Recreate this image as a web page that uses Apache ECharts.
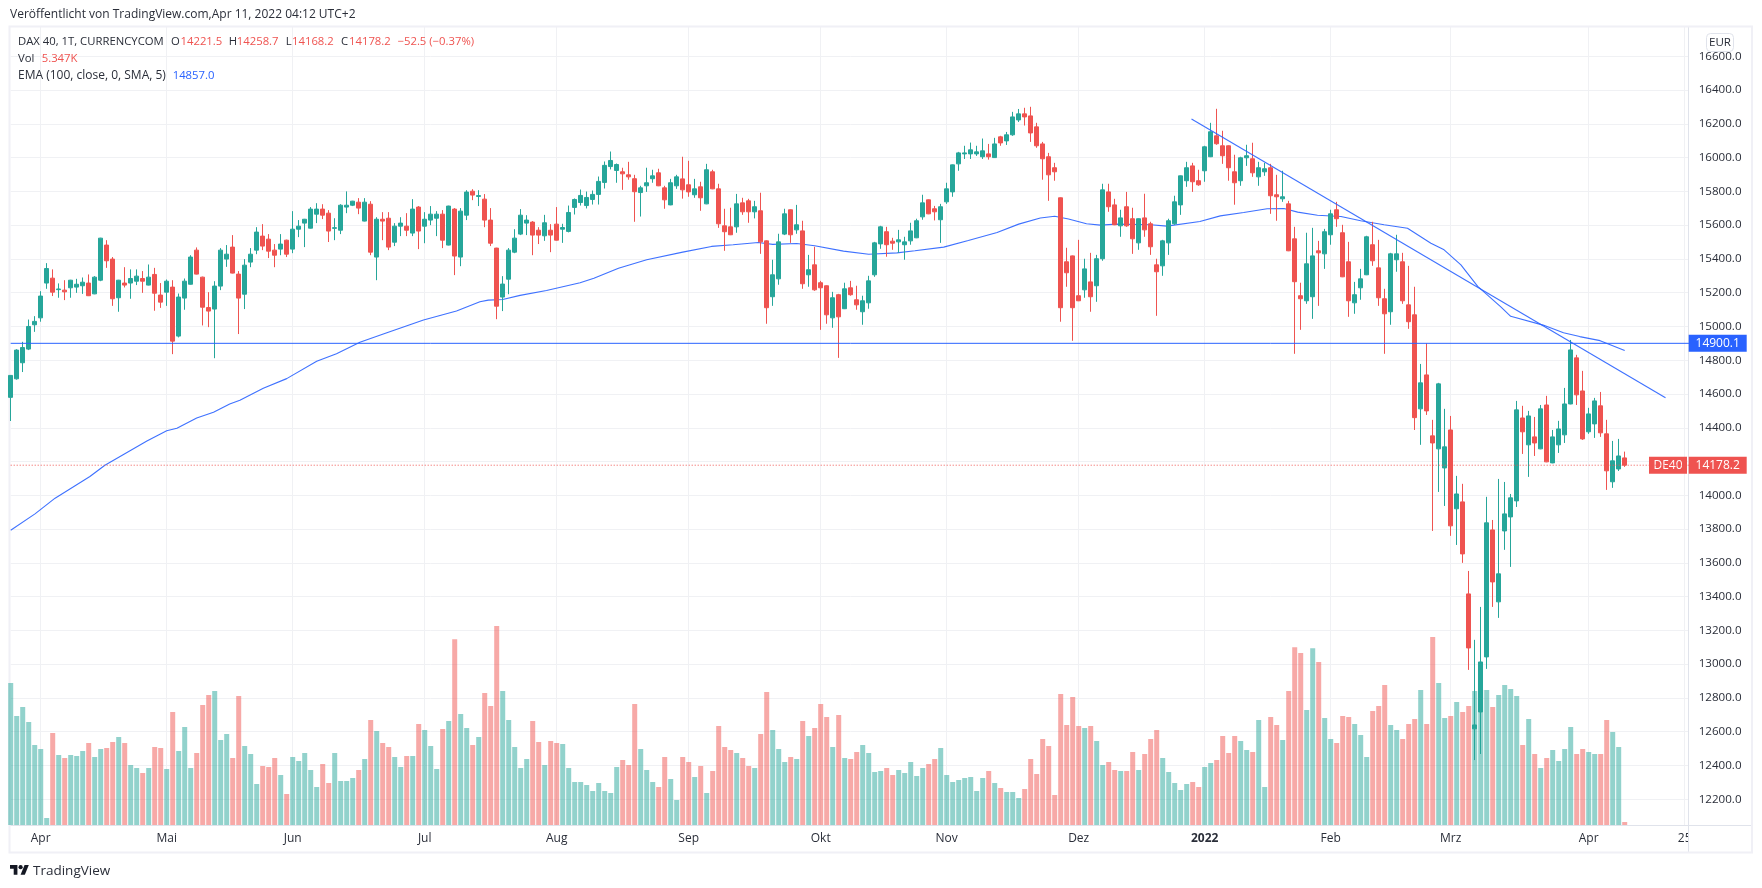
<!DOCTYPE html>
<html><head><meta charset="utf-8">
<style>html,body{margin:0;padding:0;background:#fff}#c{width:1762px;height:888px}</style>
<script src="https://cdn.jsdelivr.net/npm/echarts@6/dist/echarts.min.js"></script>
</head><body><div id="c"></div>
<script>
const opens=[14580,14690,14785,14866,15010,15051,15257,15286,15218,15215,
15229,15233,15241,15257,15193,15274,15482,15399,15170,15257,
15257,15268,15284,15245,15308,15186,15203,15233,14943,15168,
15250,15452,15292,15112,15103,15239,15399,15470,15310,15191,
15381,15452,15535,15517,15452,15458,15511,15458,15576,15612,
15582,15665,15695,15671,15581,15570,15707,15718,15736,15624,
15724,15411,15635,15641,15499,15594,15594,15553,15707,15594,
15630,15641,15665,15482,15695,15411,15659,15801,15770,15754,
15630,15464,15174,15280,15440,15547,15612,15618,15570,15537,
15570,15606,15576,15563,15705,15734,15716,15752,15782,15853,
15947,15924,15916,15898,15875,15793,15833,15875,15910,15821,
15720,15833,15874,15839,15780,15827,15726,15916,15815,15596,
15590,15590,15732,15744,15679,15685,15507,15176,15282,15547,
15691,15572,15566,15306,15365,15259,15241,15051,15188,15105,
15229,15158,15087,15140,15306,15489,15561,15505,15501,15484,
15507,15525,15649,15750,15697,15632,15738,15797,15963,16022,
16022,16022,16005,16022,16000,16123,16099,16135,16223,16259,
16247,16182,16081,16005,15940,15762,15383,15418,15182,15217,
15264,15241,15401,15797,15720,15596,15709,15638,15495,15643,
15608,15365,15359,15495,15608,15720,15863,15951,15863,15922,
16005,16129,16070,16070,15916,15863,15999,15993,15886,15916,
15940,15780,15756,15726,15519,15182,15152,15176,15448,15430,
15543,15691,15555,15383,15140,15229,15306,15484,15347,15164,
15087,15395,15383,15128,15069,14512,14713,14352,14275,14162,
14387,13920,13961,13416,12617,12717,13043,13795,13369,13789,
13872,13967,14458,14299,14346,14275,14535,14192,14299,14358,
14541,14814,14618,14376,14423,14530,14364,14080,14156,14221.5];
const highs=[14710,14865,14909,15041,15061,15209,15375,15338,15255,15274,
15276,15282,15290,15308,15298,15525,15511,15411,15276,15351,
15338,15338,15328,15367,15347,15257,15278,15274,15195,15284,
15422,15468,15295,15203,15268,15464,15482,15541,15328,15399,
15464,15588,15606,15547,15488,15547,15514,15683,15630,15637,
15707,15730,15724,15689,15641,15724,15800,15744,15760,15760,
15742,15647,15677,15677,15612,15647,15671,15754,15713,15677,
15713,15683,15689,15715,15701,15701,15807,15813,15807,15784,
15701,15466,15298,15464,15576,15695,15659,15624,15588,15661,
15606,15707,15608,15716,15758,15811,15799,15805,15888,15977,
16036,15965,15940,15975,15898,15833,15940,15928,15934,15833,
15874,15898,16005,15981,15874,15857,15963,15928,15845,15697,
15703,15785,15762,15756,15744,15792,15510,15395,15549,15697,
15693,15720,15626,15424,15472,15270,15243,15205,15193,15259,
15270,15241,15182,15300,15501,15596,15590,15525,15572,15531,
15614,15638,15780,15752,15714,15726,15851,15959,16034,16070,
16089,16070,16113,16081,16117,16129,16152,16271,16288,16295,
16301,16206,16093,16028,15969,15764,15466,15420,15513,15401,
15436,15424,15845,15845,15756,15691,15797,15703,15640,15786,
15620,15401,15513,15638,15774,15894,15975,15969,15928,16070,
16206,16289,16159,16072,16017,16005,16076,16088,15975,15969,
15963,15898,15922,15744,15590,15259,15555,15584,15507,15578,
15691,15738,15602,15501,15264,15341,15537,15620,15513,15223,
15436,15543,15436,15359,15235,14778,14900,14447,14666,14512,
14470,14115,14068,13552,13144,13339,13991,13854,14097,14079,
14008,14559,14530,14500,14464,14535,14589,14387,14441,14636,
14920,14832,14737,14518,14577,14612,14447,14322,14334,14258.7];
const lows=[14440,14685,14730,14860,14968,15028,15223,15180,15170,15156,
15170,15199,15193,15180,15191,15268,15347,15122,15087,15231,
15164,15245,15199,15243,15093,15110,15122,14836,14935,15099,
15248,15308,15006,14996,14812,15215,15353,15314,14955,15103,
15351,15428,15452,15405,15351,15422,15411,15434,15529,15470,
15580,15612,15636,15500,15511,15547,15671,15713,15665,15622,
15422,15274,15511,15452,15476,15535,15535,15535,15458,15493,
15600,15535,15464,15480,15304,15357,15630,15748,15713,15588,
15476,15043,15091,15191,15434,15541,15541,15422,15488,15507,
15440,15509,15495,15557,15663,15716,15699,15722,15722,15817,
15930,15851,15809,15869,15620,15651,15797,15851,15831,15697,
15718,15815,15757,15768,15762,15685,15724,15813,15584,15448,
15541,15555,15661,15614,15640,15430,15016,15122,15247,15541,
15495,15549,15223,15235,15211,14980,15016,14992,14814,15103,
15182,15099,15010,15105,15294,15460,15413,15454,15436,15395,
15484,15523,15632,15665,15628,15495,15726,15768,15922,15992,
15992,16010,15992,15988,15998,16070,16075,16129,16211,16190,
16093,16058,15869,15744,15863,15028,15235,14915,15150,15170,
15087,15146,15389,15679,15600,15531,15590,15430,15454,15531,
15424,15063,15300,15424,15602,15661,15827,15797,15833,15857,
16003,16076,15963,15863,15721,15833,15951,15886,15833,15892,
15667,15626,15738,15446,14838,14980,15134,15045,15122,15341,
15484,15590,15292,15057,15075,15158,15304,15359,15122,14838,
15010,15324,15134,14986,14387,14299,14476,13789,14020,13937,
13760,13706,13600,12966,12432,12468,12972,13339,13274,13677,
13576,13931,14245,14109,14233,14273,14196,14190,14251,14310,
14539,14535,14328,14364,14340,14346,14032,14044,14144,14168.2];
const closes=[14710,14860,14875,15000,15030,15180,15343,15203,15222,15205,
15274,15250,15262,15182,15292,15523,15389,15164,15274,15245,
15284,15298,15268,15292,15197,15144,15268,14913,15174,15268,
15411,15310,15114,15091,15239,15452,15428,15316,15168,15363,
15428,15559,15476,15446,15422,15488,15428,15576,15594,15635,
15695,15695,15659,15565,15585,15718,15718,15742,15701,15736,
15440,15635,15624,15470,15594,15612,15570,15695,15565,15635,
15665,15665,15511,15713,15417,15683,15796,15778,15775,15630,
15493,15120,15251,15452,15523,15659,15630,15541,15541,15614,
15541,15511,15586,15675,15752,15776,15764,15782,15859,15954,
15983,15959,15904,15886,15798,15821,15851,15892,15833,15750,
15851,15886,15809,15797,15815,15762,15928,15815,15608,15561,
15543,15726,15679,15679,15709,15501,15111,15306,15501,15667,
15543,15602,15253,15336,15217,15229,15069,15170,15057,15223,
15188,15128,15152,15270,15495,15590,15484,15493,15513,15501,
15566,15626,15732,15667,15679,15709,15815,15957,16028,16028,
16046,16034,16040,16005,16081,16087,16135,16241,16259,16241,
16146,16070,15993,15898,15916,15111,15318,15111,15152,15341,
15176,15401,15809,15709,15602,15643,15596,15519,15638,15572,
15472,15324,15507,15626,15738,15892,15940,15857,15839,16064,
16153,16082,16011,15940,15851,15999,16011,15910,15940,15934,
15774,15768,15768,15448,15265,15164,15371,15418,15436,15561,
15667,15638,15294,15152,15188,15282,15531,15389,15170,15075,
15430,15430,15152,15028,14460,14666,14500,14310,14660,14287,
13819,14008,13653,13096,12640,13013,13837,13487,13535,13890,
13985,14506,14376,14470,14310,14512,14198,14346,14393,14541,
14861,14595,14334,14482,14559,14370,14145,14204,14233,14178.2];
const volumes=[255.6,196.2,212.4,185.4,144,136.8,12.6,165.6,126,120.6,
126,124.2,133.2,147.6,122.4,136.8,138.6,149.4,158.4,147.6,
108,102.6,93.6,102.6,140.4,138.6,100.8,203.4,133.2,176.4,
102.6,129.6,216,234,241.2,153,163.8,120.6,232.2,142.2,
127.8,73.8,106.2,104.4,120.6,90,55.8,122.4,115.2,129.6,
99,68.4,109.8,75.6,129.6,79.2,79.2,84.6,99,118.8,
189,169.2,147.6,140.4,122.4,104.4,124.2,124.2,181.8,171,
142.2,100.8,172.8,187.2,334.2,199.8,174.6,144,158.4,237.6,
214.2,358.2,241.2,189,140.4,102.6,118.8,187.2,149.4,108,
151.2,147.6,145.8,102.6,77.4,77.4,72,61.2,75.6,61.2,
57.6,104.4,117,108,217.8,136.8,99,77.4,68.4,122.4,
82.8,45,122.4,113.4,86.4,106.2,57.6,97.2,178.2,140.4,
135,129.6,120.6,106.2,102.6,163.8,239.4,171,136.8,113.4,
122.4,118.8,187.2,160.2,174.6,217.8,194.4,140.4,198,120.6,
118.8,131.4,144,129.6,95.4,97.2,102.6,90,99,93.6,
113.4,88.2,102.6,109.8,118.8,138.6,90,77.4,81,84.6,
86.4,61.2,84.6,97.2,75.6,66.6,59.4,59.4,48.6,64.8,
118.8,91.8,154.8,142.2,54,235.8,180,230.4,178.2,174.6,
178.2,151.2,108,113.4,99,97.2,97.2,131.4,99,127.8,
154.8,171,120.6,95.4,75.6,63,73.8,77.4,68.4,104.4,
111.6,117,160.2,129.6,160.2,151.2,135,131.4,189,68.4,
194.4,180,153,241.2,319.8,309.6,207,318,293.4,192.6,
154.8,147.6,196.2,194.4,181.8,162,122.4,205.2,214.2,252,
180,171,154.8,181.8,190.8,243,181.8,338.4,255.6,192.6,
196.2,221.4,203.4,214.2,241.2,243,243,212.4,234,252,
244.8,232.2,144,190.8,127.8,102.6,120.6,135,115.2,136.8,
176.4,127.8,136.8,131.4,127.8,127.8,189,167.4,140.4,5.347];
const emaIdx=[0,4.05,7.4,13.2,15.7,22.7,26,27.7,31,33.8,36.5,38.2,42.1,46,51,54.3,58.2,62.1,68.8,74.3,78.2,79.6,82,84.9,89.3,94.9,97.2,101.3,106,112,116.8,120.4,124.6,127,131,134,138.8,143,147.7,150.7,155.5,159.6,164.4,168,171.6,174,176.3,179.3,181.6,184.4,190,192.7,198.2,201.6,205.5,209.4,212.2,214.5,217.8,221.7,225,228.9,232.8,236.7,238.9,241.7,244.5,248.4,250,255.4,258.8,261.5,264.9,269];
const emaVal=[13793,13890,13983,14111,14178,14322,14382,14397,14458,14492,14541,14563,14634,14691,14794,14839,14907,14955,15038,15091,15146,15156,15160,15184,15213,15259,15286,15345,15395,15440,15474,15484,15497,15486,15491,15478,15446,15428,15436,15448,15470,15509,15557,15606,15642,15653,15636,15608,15600,15606,15602,15594,15622,15655,15675,15697,15699,15677,15659,15651,15626,15602,15582,15493,15454,15365,15237,15114,15060,15008,14963,14940,14916,14857];
const trendIdx=[196.8,275.8];
const trendVal=[16229,14578];
const levelLine=14900.1;
const lastPrice=14178.2;
const priceGridTicks=[12200,12400,12600,12800,13000,13200,13400,13600,13800,14000,14200,14400,14600,14800,15000,15200,15400,15600,15800,16000,16200,16400,16600];
const priceLabels=[12200,12400,12600,12800,13000,13200,13400,13600,13800,14000,14400,14600,14800,15000,15200,15400,15600,15800,16000,16200,16400,16600];
const monthIdx=[5,26,47,69,91,113,135,156,178,199,220,240,263,279];
const monthLabels=['Apr','Mai','Jun','Jul','Aug','Sep','Okt','Nov','Dez','2022','Feb','Mrz','Apr','25'];

const SLOTS=281;
const cats=Array.from({length:SLOTS},(_,i)=>String(i));
const UP='#26a69a',DOWN='#ef5350',BLUE='#2962ff',GRID='#f0f1f4',AXIS='#e0e3eb',TXT='#2a2e39',FRAME='#f0f0f6';
const FF='"Open Sans",sans-serif';
const candles=opens.map((o,i)=>[o,closes[i],lows[i],highs[i]]);
const vols=volumes.map((v,i)=>({value:v,itemStyle:{color:closes[i]>=opens[i]?'rgba(38,166,154,0.5)':'rgba(239,83,80,0.5)'}}));
const ema=emaIdx.map((x,i)=>[x,emaVal[i]]);
const trend=trendIdx.map((x,i)=>[x,trendVal[i]]);
const isMonth=(i)=>monthIdx.includes(i);
const T=(x,y,text,extra)=>({type:'text',x,y,z:20,silent:true,style:Object.assign({text,fill:TXT,font:'12px '+FF,textVerticalAlign:'middle'},extra||{})});
const S={font:'11.3px '+FF};
const R={font:'11.3px '+FF,fill:DOWN};

const chart=echarts.init(document.getElementById('c'),null,{renderer:'canvas'});
chart.setOption({
 animation:false,backgroundColor:'#fff',
 grid:[{left:10.7,width:1680,top:27,height:798},{left:10.7,width:1680,top:600,height:225}],
 xAxis:[
  {type:'category',gridIndex:0,data:cats,boundaryGap:false,axisLine:{show:false},axisTick:{show:false},axisLabel:{show:false},
   splitLine:{show:true,interval:(i)=>isMonth(i),lineStyle:{color:GRID,width:1}}},
  {type:'category',gridIndex:1,data:cats,boundaryGap:false,axisLine:{show:true,lineStyle:{color:AXIS,width:1}},axisTick:{show:false},splitLine:{show:false},
   axisLabel:{interval:(i)=>isMonth(i),margin:8,color:TXT,fontSize:12,fontFamily:FF,
    formatter:(v,i)=>{const k=monthIdx.indexOf(+v);const s=k<0?'':monthLabels[k];return s==='2022'?'{b|2022}':s;},
    rich:{b:{fontWeight:'bold',fontSize:12,fontFamily:FF,color:TXT}}}},
  {type:'value',gridIndex:0,min:0,max:SLOTS-1,show:false,splitLine:{show:false}}
 ],
 yAxis:[
  {type:'value',gridIndex:0,position:'right',min:12047.4,max:16773.5,axisLine:{show:false},
   axisTick:{show:false,customValues:priceGridTicks},
   axisLabel:{customValues:priceLabels,margin:8,color:TXT,fontSize:11.6,fontFamily:FF,formatter:(v)=>v.toFixed(1)},
   splitLine:{show:true,lineStyle:{color:GRID,width:1}}},
  {type:'value',gridIndex:1,min:0,max:405,show:false,splitLine:{show:false}}
 ],
 series:[
  {type:'bar',name:'Vol',xAxisIndex:1,yAxisIndex:1,data:vols,barWidth:5,z:2,clip:true},
  {type:'line',name:'EMA',xAxisIndex:2,yAxisIndex:0,data:ema,showSymbol:false,symbol:'none',z:3,lineStyle:{color:BLUE,width:1.1,opacity:.9},clip:true},
  {type:'candlestick',name:'DAX 40',xAxisIndex:0,yAxisIndex:0,data:candles,barWidth:4,z:4,clip:true,
   itemStyle:{color:UP,color0:DOWN,borderColor:UP,borderColor0:DOWN,borderWidth:1}},
  {type:'line',name:'Trend',xAxisIndex:2,yAxisIndex:0,data:trend,showSymbol:false,symbol:'none',z:5,lineStyle:{color:BLUE,width:1.1,opacity:.9}},
  {type:'line',name:'Level',xAxisIndex:0,yAxisIndex:0,data:[[0,levelLine],[SLOTS-1,levelLine]],showSymbol:false,symbol:'none',z:5,lineStyle:{color:BLUE,width:1},
   markPoint:{silent:true,animation:false,data:[{coord:[SLOTS-1,levelLine],symbol:'rect',symbolSize:[58,17],symbolOffset:[27,0],itemStyle:{color:BLUE},
     label:{show:true,position:'inside',formatter:levelLine.toFixed(1),color:'#fff',fontSize:12,fontWeight:500,fontFamily:FF}}]}},
  {type:'line',name:'Last',xAxisIndex:0,yAxisIndex:0,data:[[0,lastPrice],[SLOTS-1,lastPrice]],showSymbol:false,symbol:'none',z:5,lineStyle:{color:DOWN,width:1,type:[1,2]},
   markPoint:{silent:true,animation:false,data:[
    {coord:[SLOTS-1,lastPrice],symbol:'rect',symbolSize:[58,17],symbolOffset:[27,0],itemStyle:{color:DOWN},
     label:{show:true,position:'inside',formatter:lastPrice.toFixed(1),color:'#fff',fontSize:12,fontWeight:500,fontFamily:FF}},
    {coord:[276,lastPrice],symbol:'rect',symbolSize:[38,17],symbolOffset:[1.3,0],itemStyle:{color:DOWN},
     label:{show:true,position:'inside',formatter:'DE40',color:'#fff',fontSize:12,fontWeight:500,fontFamily:FF}}]}}
 ],
 graphic:[
  {type:'rect',z:1,silent:true,shape:{x:1688.5,y:27,width:5,height:826},style:{fill:'#fff'}},
  {type:'line',z:1,silent:true,shape:{x1:1688.5,y1:27,x2:1688.5,y2:853},style:{stroke:AXIS,lineWidth:1}},
  {type:'line',z:1,silent:true,shape:{x1:1688,y1:825.5,x2:1752,y2:825.5},style:{stroke:AXIS,lineWidth:1}},
  {type:'rect',z:1,silent:true,shape:{x:9.5,y:26.5,width:1742.5,height:826},style:{fill:'none',stroke:FRAME,lineWidth:2}},
  T(10,15,'Veröffentlicht von TradingView.com,Apr 11, 2022 04:12 UTC+2'),
  T(18,42,'DAX 40, 1T, CURRENCYCOM',S),T(171,42,'O',S),T(180.5,42,'14221.5',R),T(228.7,42,'H',S),T(236.8,42,'14258.7',R),
  T(285.7,42,'L',S),T(292,42,'14168.2',R),T(341,42,'C',S),T(349,42,'14178.2',R),T(397.5,42,'−52.5 (−0.37%)',R),
  T(18,59,'Vol',S),T(41.7,59,'5.347K',R),
  T(18,76,'EMA (100, close, 0, SMA, 5)'),T(172.7,76,'14857.0',{font:'11.3px '+FF,fill:BLUE}),
  {type:'rect',z:19,silent:true,shape:{x:1706.5,y:33.5,width:27,height:18,r:4},style:{fill:'#fff',stroke:AXIS,lineWidth:1}},
  T(1720,43,'EUR',{textAlign:'center',font:'11.6px '+FF}),
  {type:'group',z:20,silent:true,x:10,y:863,scaleX:.53,scaleY:.53,children:[
   {type:'polygon',z:20,shape:{points:[[0,4],[14,4],[14,22],[7,22],[7,11],[0,11]]},style:{fill:'#131722'}},
   {type:'polygon',z:20,shape:{points:[[20,22],[28,22],[35.5,4],[27.5,4]]},style:{fill:'#131722'}},
   {type:'circle',z:20,shape:{cx:20,cy:8,r:4},style:{fill:'#131722'}}]},
  T(33,871,'TradingView',{font:'13.5px '+FF})
 ]
});
</script></body></html>
